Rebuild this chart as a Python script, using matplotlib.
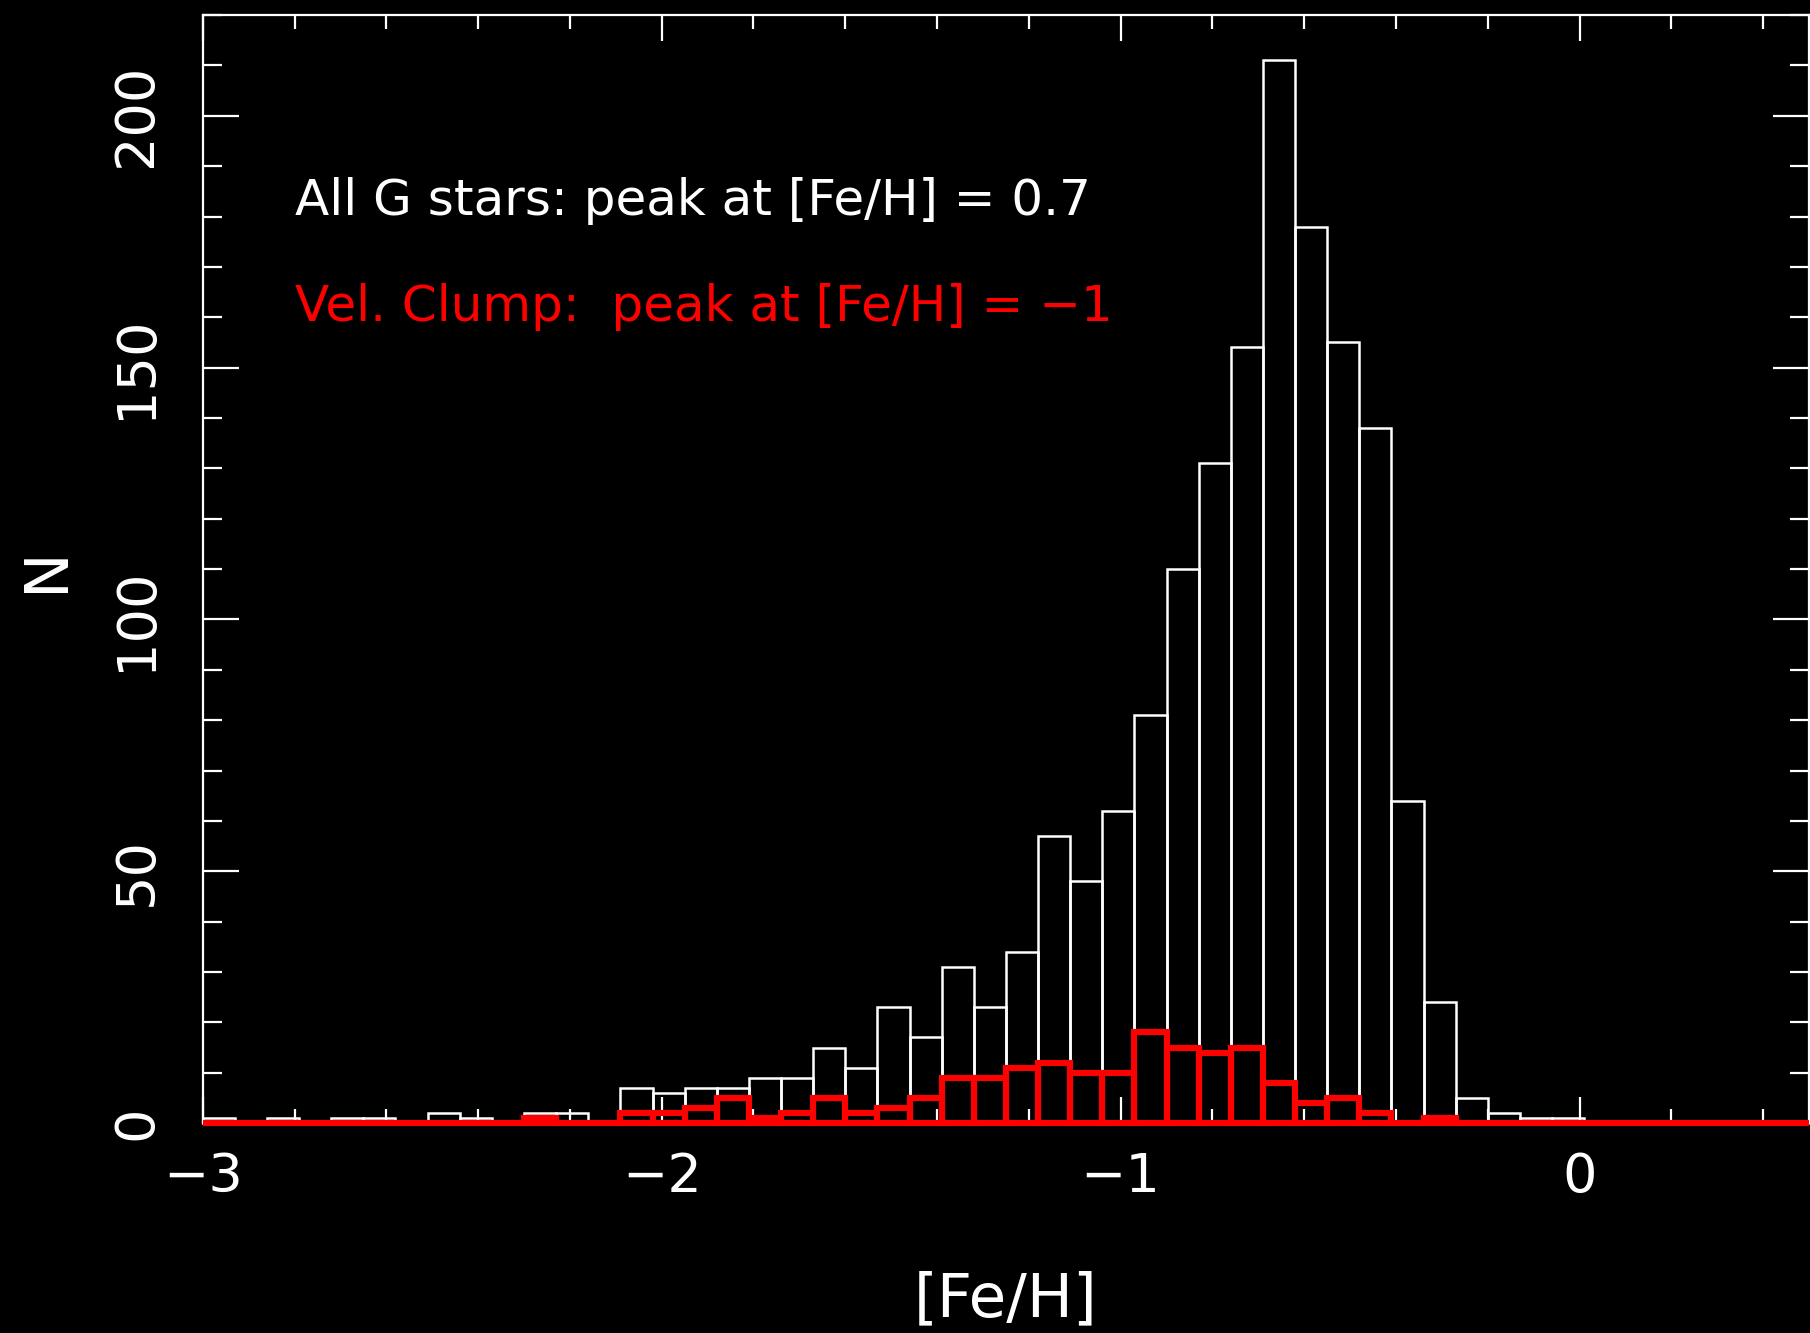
#!/usr/bin/python3
import matplotlib
matplotlib.use("Agg")
import matplotlib.pyplot as plt
import numpy as np

# histogram bins in [Fe/H]
bin_start = -3.0
bin_width = 0.07
n_bins = 50

# counts per bin, all G stars
all_g = [1, 0, 1, 0, 1, 1, 0, 2, 1, 0,
         2, 2, 0, 7, 6, 7, 7, 9, 9, 15,
         11, 23, 17, 31, 23, 34, 57, 48, 62, 81,
         110, 131, 154, 211, 178, 155, 138, 64, 24, 5,
         2, 1, 1, 0, 0, 0, 0, 0, 0, 0]

# counts per bin, velocity clump
vel_clump = [0, 0, 0, 0, 0, 0, 0, 0, 0, 0,
             1, 0, 0, 2, 2, 3, 5, 1, 2, 5,
             2, 3, 5, 9, 9, 11, 12, 10, 10, 18,
             15, 14, 15, 8, 4, 5, 2, 0, 1, 0,
             0, 0, 0, 0, 0, 0, 0, 0, 0, 0]

x_ticks = [-3, -2, -1, 0]
y_ticks = [0, 50, 100, 150, 200]

left_edges = bin_start + bin_width * np.arange(n_bins)

fig = plt.figure(figsize=(18.1, 13.33), dpi=100, facecolor='black')
ax = fig.add_axes([0.112, 0.1575, 0.8875, 0.8312], facecolor='black')

ax.bar(left_edges, all_g, width=bin_width, align='edge', fill=False,
       edgecolor='white', linewidth=1.8, clip_on=False, zorder=2)
ax.bar(left_edges, vel_clump, width=bin_width, align='edge', fill=False,
       edgecolor='#ff0000', linewidth=4.4, clip_on=False, zorder=3)

ax.set_xlim(-3, 0.5)
ax.set_ylim(0, 220)

for s in ax.spines.values():
    s.set_color('white')
    s.set_linewidth(1.6)

ax.set_xticks(x_ticks)
ax.set_xticks(np.arange(-3, 0.51, 0.2), minor=True)
ax.set_yticks(y_ticks)
ax.set_yticks(np.arange(0, 221, 10), minor=True)
ax.set_xticklabels(['\u22123', '\u22122', '\u22121', '0'])

ax.tick_params(which='both', direction='in', colors='white', top=True, right=True, width=1.6)
ax.tick_params(axis='x', which='major', length=19)
ax.tick_params(axis='x', which='minor', length=10)
ax.tick_params(axis='y', which='major', length=26)
ax.tick_params(axis='y', which='minor', length=14)
ax.tick_params(axis='x', labelsize=39, pad=20)
ax.tick_params(axis='y', labelsize=39, pad=29)
for lab in ax.get_yticklabels():
    lab.set_rotation(90)
    lab.set_va('center')

ax.set_xlabel('[Fe/H]', fontsize=44, color='white')
ax.xaxis.set_label_coords(0.5, -0.133)
ax.set_ylabel('N', fontsize=44, color='white')
ax.yaxis.set_label_coords(-0.079, 0.5)

ax.text(-2.8, 183, 'All G stars: peak at [Fe/H] = 0.7', color='white',
        fontsize=36, va='center', ha='left')
ax.text(-2.8, 162, 'Vel. Clump:  peak at [Fe/H] = \u22121', color='#ff0000',
        fontsize=36, va='center', ha='left')

plt.savefig('out.png', dpi=100, facecolor='black')
